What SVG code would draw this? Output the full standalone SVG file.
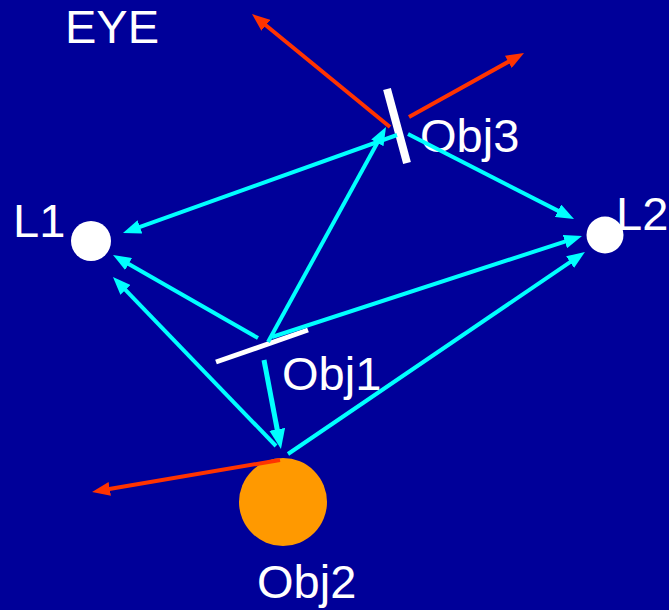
<svg xmlns="http://www.w3.org/2000/svg" width="669" height="610" viewBox="0 0 669 610">
<style>
.lbl{font-family:"Liberation Sans",Arial,sans-serif;font-size:47px;fill:#ffffff}
.cy{stroke:#00ffff;stroke-width:4;fill:none}
.cyb{stroke:#00ffff;stroke-width:5;fill:none}
.rd{stroke:#ff3300;stroke-width:4;fill:none}
.mir{stroke:#ffffff;fill:none}
</style>
<defs>
<marker id="ac" viewBox="0 0 18 14" markerWidth="18" markerHeight="14" markerUnits="userSpaceOnUse" refX="8" refY="7" orient="auto"><path d="M0,0 L18,7 L0,14 z" fill="#00ffff"/></marker>
<marker id="acb" viewBox="0 0 20 16" markerWidth="20" markerHeight="16" markerUnits="userSpaceOnUse" refX="9" refY="8" orient="auto"><path d="M0,0 L20,8 L0,16 z" fill="#00ffff"/></marker>
<marker id="ar" viewBox="0 0 18 14" markerWidth="18" markerHeight="14" markerUnits="userSpaceOnUse" refX="8" refY="7" orient="auto"><path d="M0,0 L18,7 L0,14 z" fill="#ff3300"/></marker>
</defs>
<rect x="0" y="0" width="669" height="610" fill="#000099"/>
<g id="EYE"><text class="lbl" x="65" y="43">EYE</text></g>
<g id="L1"><circle cx="91" cy="241" r="20" fill="#ffffff"/><text class="lbl" x="13" y="237">L1</text></g>
<g id="L2"><circle cx="605" cy="235" r="18.5" fill="#ffffff"/><text class="lbl" x="616" y="230">L2</text></g>
<g id="Obj3"><line class="mir" x1="387" y1="89" x2="407" y2="163" stroke-width="8"/><text class="lbl" x="420" y="152">Obj3</text></g>
<g id="Obj1"><line class="mir" x1="216" y1="362" x2="308" y2="330" stroke-width="5"/><text class="lbl" x="282" y="390">Obj1</text></g>
<g id="Obj2"><circle cx="283" cy="502" r="44" fill="#ff9900"/><text class="lbl" x="257" y="598">Obj2</text></g>
<g id="connectors">
<line class="cy" x1="397" y1="135" x2="132.4" y2="229.6" marker-end="url(#ac)"/>
<line class="cy" x1="268" y1="342" x2="381.2" y2="135.8" marker-end="url(#ac)"/>
<line class="cy" x1="408" y1="134" x2="565.1" y2="214.4" marker-end="url(#ac)"/>
<line class="cy" x1="258" y1="338" x2="121.7" y2="260" marker-end="url(#ac)"/>
<line class="cy" x1="276" y1="446" x2="119.9" y2="284.2" marker-end="url(#ac)"/>
<line class="cyb" x1="264" y1="360" x2="278.9" y2="438.2" marker-end="url(#acb)"/>
<line class="cy" x1="272" y1="337" x2="572.5" y2="239.1" marker-end="url(#ac)"/>
<line class="cy" x1="288" y1="454" x2="576.7" y2="257.6" marker-end="url(#ac)"/>
<line class="rd" x1="390" y1="127" x2="259.7" y2="20.3" marker-end="url(#ar)"/>
<line class="rd" x1="409" y1="117" x2="515.3" y2="57.9" marker-end="url(#ar)"/>
<line class="rd" x1="280" y1="460" x2="101.9" y2="490.3" marker-end="url(#ar)"/>
</g>
</svg>
